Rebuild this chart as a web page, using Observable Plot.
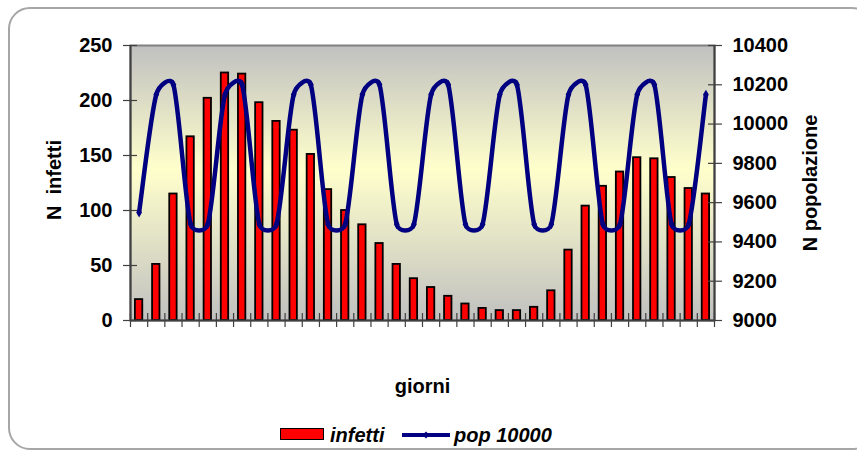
<!DOCTYPE html>
<html>
<head>
<meta charset="utf-8">
<script src="https://cdn.jsdelivr.net/npm/d3@7"></script>
<script src="https://cdn.jsdelivr.net/npm/@observablehq/plot@0.6"></script>
<style>
  html, body { margin: 0; padding: 0; background: #fff; overflow: hidden; }
  #wrap { position: relative; width: 857px; height: 450px; overflow: hidden; font-family: "Liberation Sans", Arial, sans-serif; }
  #border { position: absolute; left: 8px; top: 7px; width: 862px; height: 439px; border: 2px solid #a6a6a6; border-radius: 22px; }
  #chart { position: absolute; left: 0; top: 0; }
  .lg { position: absolute; font-size: 20px; font-weight: bold; font-style: italic; line-height: 20px; color: #000; white-space: nowrap; }
</style>
</head>
<body>
<div id="wrap">
  <div id="border"></div>
  <div id="chart"></div>
  <div class="lg" style="left:280px;top:428px;width:42px;height:10px;border:1.5px solid #000;background:#ff0000;"></div>
  <div class="lg" id="lg1" style="left:330px;top:425px;"></div>
  <svg class="lg" style="left:400px;top:429px;" width="52" height="12">
    <line x1="2" y1="6" x2="50" y2="6" stroke="#000080" stroke-width="4"/>
    <path d="M26,2.5L29.5,6L26,9.5L22.5,6Z" fill="#000080"/>
  </svg>
  <div class="lg" id="lg2" style="left:454px;top:425px;"></div>
</div>
<script>
// ---- data ----
const days = [1,2,3,4,5,6,7,8,9,10,11,12,13,14,15,16,17,18,19,20,21,22,23,24,25,26,27,28,29,30,31,32,33,34];
const infetti = [19,51,115,167,202,225,224,198,181,173,151,119,100,87,70,51,38,30,22,15,11,9,9,12,27,64,104,122,135,148,147,130,120,115];
const pop10000 = [9550,10150,10200,9490,9490,10150,10200,9490,9490,10150,10200,9490,9490,10150,10200,9490,9490,10150,10200,9490,9490,10150,10200,9490,9490,10150,10200,9490,9490,10150,10200,9490,9490,10150];
const leftTicks = [0,50,100,150,200,250];
const rightTicks = [9000,9200,9400,9600,9800,10000,10200,10400];
const seriesNames = ["infetti", "pop 10000"];
const axisTitles = {left: "N  infetti", right: "N popolazione", x: "giorni"};

// ---- helpers ----
const infDomain = [0, 250];
const popDomain = [9000, 10400];
const popToY = p => (p - popDomain[0]) / (popDomain[1] - popDomain[0]) * (infDomain[1] - infDomain[0]) + infDomain[0];
const yToPop = v => Math.round((v - infDomain[0]) / (infDomain[1] - infDomain[0]) * (popDomain[1] - popDomain[0]) + popDomain[0]);

// Excel-like smoothed line (Bezier, control distance limited to half the segment)
function curveExcel(context) {
  let pts = [];
  const dist = (a, b) => Math.hypot(b[0] - a[0], b[1] - a[1]);
  return {
    areaStart() {}, areaEnd() {},
    lineStart() { pts = []; },
    point(x, y) { pts.push([+x, +y]); },
    lineEnd() {
      const n = pts.length;
      if (!n) return;
      context.moveTo(pts[0][0], pts[0][1]);
      for (let i = 0; i < n - 1; i++) {
        const p0 = pts[Math.max(0, i - 1)], p1 = pts[i], p2 = pts[i + 1], p3 = pts[Math.min(n - 1, i + 2)];
        const d12 = dist(p1, p2), d02 = dist(p0, p2), d13 = dist(p1, p3);
        let f0 = 1 / 6, f1 = 1 / 6;
        if (d02 > 0 && d02 / 6 > d12 / 2) f0 = d12 / (2 * d02);
        if (d13 > 0 && d13 / 6 > d12 / 2) f1 = d12 / (2 * d13);
        const c1 = [p1[0] + (p2[0] - p0[0]) * f0, p1[1] + (p2[1] - p0[1]) * f0];
        const c2 = [p2[0] - (p3[0] - p1[0]) * f1, p2[1] - (p3[1] - p1[1]) * f1];
        context.bezierCurveTo(c1[0], c1[1], c2[0], c2[1], p2[0], p2[1]);
      }
    }
  };
}

const barData = days.map((d, i) => ({day: d, inf: infetti[i]}));
const lineData = days.map((d, i) => ({day: d, pop: pop10000[i]}));
const boundaries = [days[0] - 0.5, ...days.map(d => d + 0.5)];

const chart = Plot.plot({
  width: 857,
  height: 450,
  marginLeft: 130,
  marginRight: 143,
  marginTop: 45,
  marginBottom: 130,
  style: {fontFamily: "'Liberation Sans', Arial, sans-serif", fontSize: "20px", fontWeight: "bold", color: "#000", background: "transparent", overflow: "visible"},
  x: {type: "linear", domain: [days[0] - 0.5, days[days.length - 1] + 0.5], axis: null},
  y: {domain: infDomain, axis: null},
  marks: [
    Plot.frame({fill: "url(#plotbg)", stroke: "#808080", strokeWidth: 2}),
    // bars
    Plot.rectY(barData, {x1: d => d.day - 0.5, x2: d => d.day + 0.5, y: "inf", insetLeft: 4.9, insetRight: 4.9, fill: "#ff0000", stroke: "#000", strokeWidth: 1.8}),
    // axis lines
    Plot.ruleX([boundaries[0], boundaries[boundaries.length - 1]], {stroke: "#404040", strokeWidth: 2}),
    Plot.ruleY([infDomain[0]], {stroke: "#404040", strokeWidth: 2}),
    // x ticks (crossing the axis)
    Plot.axisX({ticks: boundaries, tickSize: 14, dy: -7, tickFormat: () => "", label: null, stroke: "#404040", strokeWidth: 1.2}),
    // left ticks + labels
    Plot.axisY({anchor: "left", ticks: leftTicks, tickSize: 14, dx: 7, tickFormat: () => "", label: null, stroke: "#404040", strokeWidth: 1.2}),
    Plot.axisY({anchor: "left", ticks: leftTicks, tickSize: 0, tickPadding: 18, label: null, fill: "#000"}),
    // right ticks + labels
    Plot.axisY({anchor: "right", ticks: rightTicks.map(popToY), tickSize: 14, dx: -7, tickFormat: () => "", label: null, stroke: "#404040", strokeWidth: 1.2}),
    Plot.axisY({anchor: "right", ticks: rightTicks.map(popToY), tickSize: 0, tickPadding: 18, tickFormat: v => String(yToPop(v)), label: null, fill: "#000"}),
    // line
    Plot.line(lineData, {x: "day", y: d => popToY(d.pop), stroke: "#000080", strokeWidth: 4.5, curve: curveExcel}),
    Plot.dot(lineData, {x: "day", y: d => popToY(d.pop), symbol: "diamond", r: 3, fill: "#000080"}),
    // axis titles
    Plot.text([axisTitles.left], {frameAnchor: "left", rotate: -90, dx: -76, dy: -3, textAnchor: "middle", lineAnchor: "middle", fill: "#000", fontSize: 20, fontWeight: "bold"}),
    Plot.text([axisTitles.right], {frameAnchor: "right", rotate: -90, dx: 96, textAnchor: "middle", lineAnchor: "middle", fill: "#000", fontSize: 20, fontWeight: "bold"}),
    Plot.text([axisTitles.x], {frameAnchor: "bottom", dy: 66, textAnchor: "middle", lineAnchor: "middle", fill: "#000", fontSize: 20, fontWeight: "bold"})
  ]
});

// gradient background for plot area
const ns = "http://www.w3.org/2000/svg";
const defs = document.createElementNS(ns, "defs");
defs.innerHTML = `<linearGradient id="plotbg" x1="0" y1="0" x2="0" y2="1">
  <stop offset="0" stop-color="#c0c0c0"/>
  <stop offset="0.45" stop-color="#ffffcc"/>
  <stop offset="1" stop-color="#c0c0c0"/>
</linearGradient>`;
chart.insertBefore(defs, chart.firstChild);

document.getElementById("chart").appendChild(chart);
document.getElementById("lg1").textContent = seriesNames[0];
document.getElementById("lg2").textContent = seriesNames[1];
</script>
</body>
</html>
